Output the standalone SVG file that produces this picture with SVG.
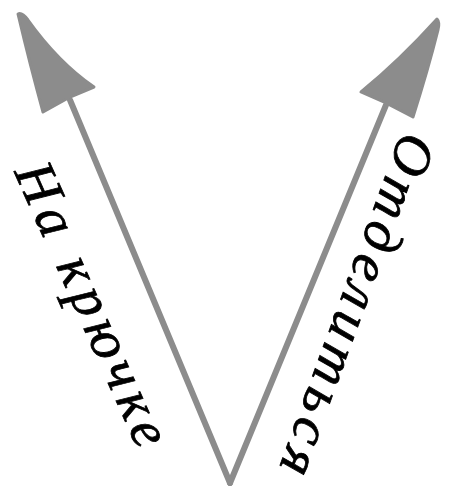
<svg xmlns="http://www.w3.org/2000/svg" width="453" height="487" viewBox="0 0 453 487">
<style>
.shaft{stroke:#8c8c8c;stroke-width:6;stroke-linecap:round;fill:none}
.head{fill:#8c8c8c;stroke:#8c8c8c;stroke-width:3;stroke-linejoin:round}
.lbl{font-family:"Liberation Serif","DejaVu Serif",serif;font-style:italic;font-size:56px;fill:#000;stroke:#000;stroke-width:0.8}
</style>
<rect width="453" height="487" fill="#fff"/>
<g id="connectors">
<path class="shaft" d="M230,483 L70,100"/>
<path class="shaft" d="M230,483 L386,105"/>
</g>
<g id="head-left">
<path class="head" d="M18,14 Q22,12 28,20 Q58,62 94,87 L70,97 L43,112 Q30,65 18,14 Z"/>
</g>
<g id="head-right">
<path class="head" d="M437,19 Q440,22 438,30 Q428,70 413,117 L386,103 L361,92 Q400,60 437,19 Z"/>
</g>
<g id="label-left">
<text class="lbl" transform="translate(14,172) rotate(66)" textLength="305" lengthAdjust="spacing">На крючке</text>
</g>
<g id="label-right">
<text class="lbl" transform="translate(402,130) rotate(110)" textLength="360" lengthAdjust="spacing">Отделиться</text>
</g>
</svg>
